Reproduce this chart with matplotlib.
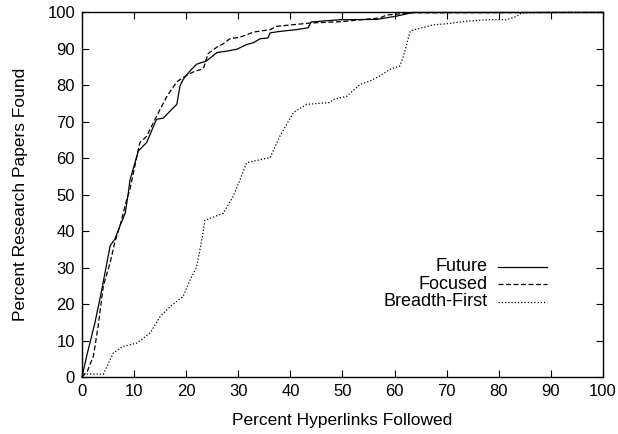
import matplotlib
matplotlib.use("Agg")
import matplotlib.pyplot as plt

plt.rcParams['font.family'] = ['Liberation Sans', 'DejaVu Sans']

# curves (percent hyperlinks followed -> percent papers found)
future_x = [0, 0.9, 2.5, 3.8, 5.4, 6.3, 7.3, 8.3, 8.9, 9.2, 10.8, 12.4, 14.3, 15.6,
            16.6, 18.2, 18.8, 19.4, 20.7, 22.0, 23.9, 25.9, 27.8, 29.7, 31.6, 32.9,
            34.2, 35.7, 36.1, 38.0, 41.2, 43.4, 44.0, 49.5, 56.6, 60.4, 63.5, 70, 100]
future_y = [0, 5.8, 15, 24, 36, 37.8, 41.5, 45, 50.6, 54, 62, 64.3, 70.7, 71,
            72.5, 74.8, 79.8, 81.6, 83.9, 85.8, 86.7, 89, 89.4, 89.9, 91.2, 91.7,
            92.8, 93, 94.4, 94.8, 95.3, 95.8, 97.4, 98, 98.1, 99, 100, 100, 100]

focused_x = [0, 1.0, 2.2, 3.1, 4.1, 5.4, 6.3, 7.3, 8.6, 9.2, 11.1, 12.4, 14.3, 16.3,
             18.2, 20.1, 21.4, 23.3, 24.2, 25.9, 27.1, 28.4, 30.3, 32.9, 36.1, 37.4,
             43.8, 50.0, 57.2, 58.5, 63.5, 100]
focused_y = [0, 1.5, 5.8, 14, 25, 31.4, 37, 41.5, 48.8, 51.5, 64.3, 66, 71.5, 77,
             81, 82.8, 83.7, 84.6, 88.7, 90.5, 91.4, 92.8, 93.2, 94.6, 95.3, 96.2,
             97.1, 97.5, 98.5, 99.3, 99.9, 100]

breadth_x = [0, 0.3, 4.1, 6.0, 7.9, 10.5, 13.1, 15.0, 16.9, 19.4, 20.7, 22.0, 23.0,
             23.6, 27.1, 29.0, 30.3, 31.6, 36.1, 38.0, 40.6, 43.1, 47.6, 48.2, 50.8,
             53.4, 55.3, 57.2, 59.1, 61.0, 61.7, 63.0, 63.9, 67.4, 70.0, 73.8, 77.7,
             81.5, 83.4, 84.4, 88, 100]
breadth_y = [0, 0.8, 0.8, 6.6, 8.4, 9.3, 12.1, 16.6, 19.3, 22.1, 26.5, 30.2, 37.6,
             43, 44.9, 49.5, 54, 58.8, 60.2, 66.1, 72.6, 74.8, 75.3, 76.1, 77,
             80.3, 81.2, 82.6, 84.4, 85.3, 88, 94.9, 95.3, 96.6, 96.9, 97.6, 98,
             98, 98.9, 99.9, 100, 100]

labels = ["Future", "Focused", "Breadth-First"]
ticks = list(range(0, 101, 10))

fig = plt.figure(figsize=(6.18, 4.34), dpi=100)
ax = fig.add_axes([0.1327, 0.1313, 0.843, 0.84])

styles = ['-', (0, (4, 2)), (0, (1, 1.6))]
series = [(future_x, future_y), (focused_x, focused_y), (breadth_x, breadth_y)]
for (xs, ys), ls in zip(series, styles):
    ax.plot(xs, ys, color='black', linestyle=ls, linewidth=0.9, clip_on=False)

ax.set_xlim(0, 100)
ax.set_ylim(0, 100)
ax.set_xticks(ticks)
ax.set_yticks(ticks)
ax.tick_params(direction='in', top=True, right=True, length=5, width=0.8,
               labelsize=12, pad=5)
for sp in ax.spines.values():
    sp.set_linewidth(1.0)

ax.set_xlabel("Percent Hyperlinks Followed", fontsize=12.5, labelpad=10)
ax.set_ylabel("Percent Research Papers Found", fontsize=12.5, labelpad=14)

# gnuplot-style key: right-aligned text, sample line to the right
key_y = [0.3026, 0.2543, 0.2066]
for lab, ls, ky in zip(labels, styles, key_y):
    ax.text(0.779, ky, lab, transform=ax.transAxes, ha='right', va='center',
            fontsize=13)
    ax.plot([0.798, 0.893], [ky, ky], transform=ax.transAxes, color='black',
            linestyle=ls, linewidth=0.9)

fig.savefig("out.png", dpi=100)
